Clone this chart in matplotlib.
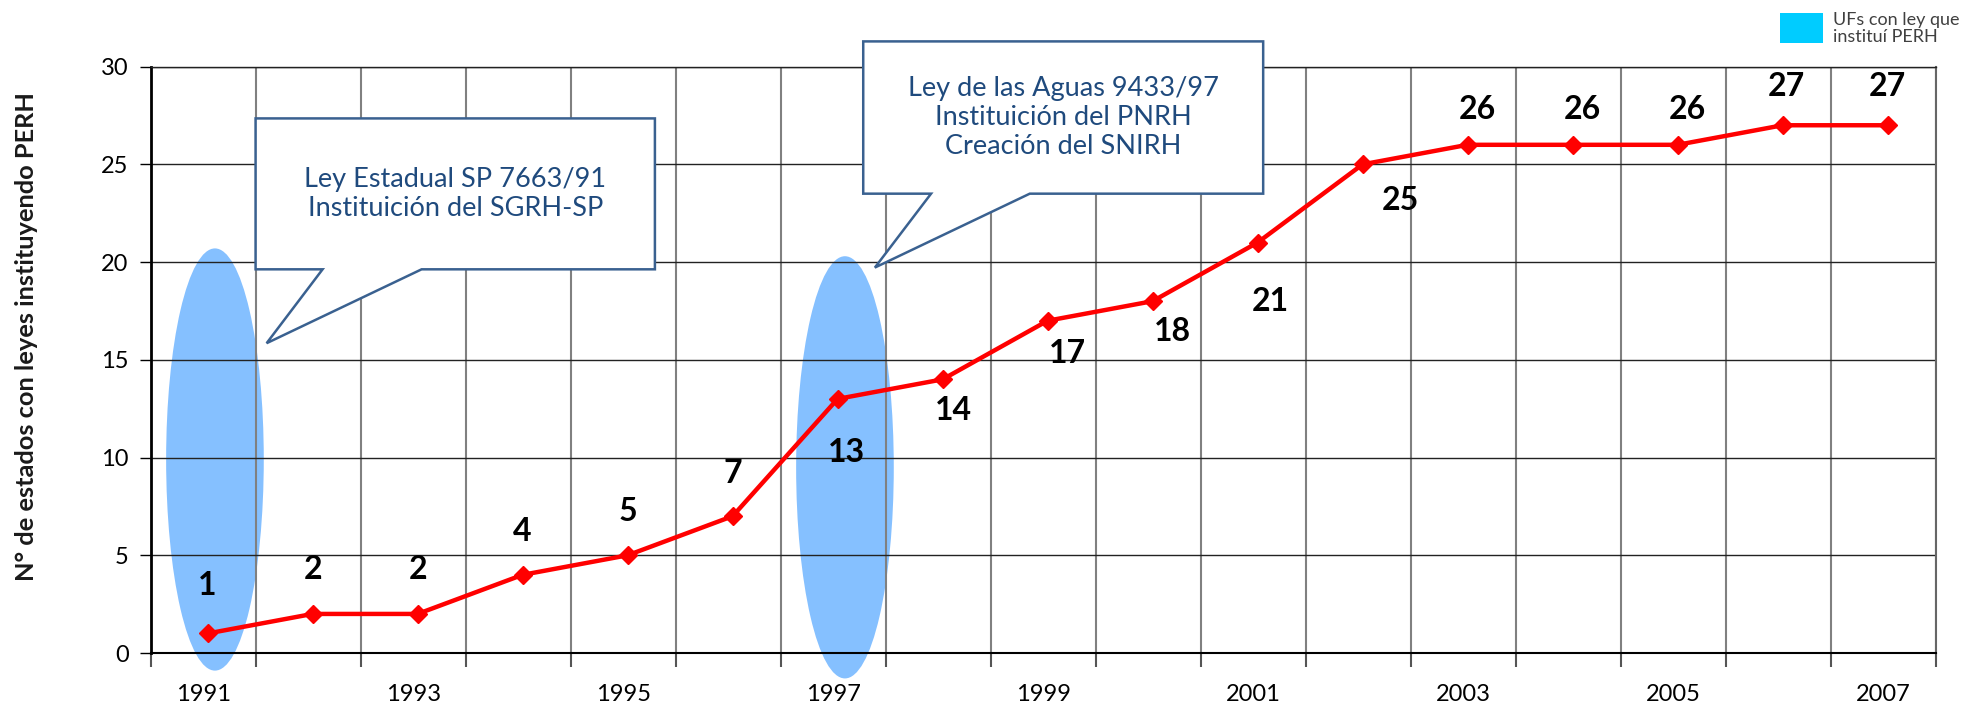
import numpy as np
import matplotlib.pyplot as plt
from matplotlib.patches import Ellipse, Polygon, Rectangle

plt.rcParams['font.family'] = ['Lato', 'DejaVu Sans']

# data
years = [1991, 1992, 1993, 1994, 1995, 1996, 1997, 1998, 1999,
         2000, 2001, 2002, 2003, 2004, 2005, 2006, 2007]
estados = [1, 2, 2, 4, 5, 7, 13, 14, 17, 18, 21, 25, 26, 26, 26, 27, 27]
y_ticks = [0, 5, 10, 15, 20, 25, 30]
highlight_years = [1991, 1997]
callout_texts = ['Ley Estadual SP 7663/91\nInstituición del SGRH-SP',
                 'Ley de las Aguas 9433/97\nInstituición del PNRH\nCreación del SNIRH']
legend_label = 'UFs con ley que\ninstituí PERH'
y_label = 'N° de estados con leyes instituyendo PERH'

# label offsets in pixels (dx, dy) relative to each point
label_off = [(0, 48), (0, 44), (0, 44), (0, 43), (0, 44), (0, 43),
             (9, -54), (11, -31), (20, -33), (20, -30), (13, -59), (38, -36),
             (10, 35), (10, 35), (10, 35), (4, 39), (0, 39)]

x = np.arange(len(years))

fig = plt.figure(figsize=(19.7, 7.14), dpi=100)
ax = fig.add_axes([0.0766, 0.0854, 0.9061, 0.8213])

ax.set_xlim(-0.5, len(years) - 0.5)
ax.set_ylim(0, 30)
ax.set_axisbelow(True)

# grid: boundaries between categories, horizontal at y ticks
ax.set_xticks(np.arange(len(years) + 1) - 0.5)
ax.set_xticklabels([])
ax.set_xticks(x[::2], minor=True)
ax.set_xticklabels([str(yr) for yr in years[::2]], minor=True)
ax.tick_params(axis='x', which='major', length=10, width=1.5, color='#555555')
ax.tick_params(axis='x', which='minor', length=0, pad=22, labelsize=17)
ax.set_yticks(y_ticks)
ax.tick_params(axis='y', length=8, width=1, pad=8, labelsize=17)
ax.grid(axis='x', which='major', color='#808080', lw=1.5)
ax.grid(axis='y', color='#222222', lw=1)

ax.spines['top'].set_color('#222222')
ax.spines['top'].set_linewidth(1)
ax.spines['right'].set_color('#666666')
ax.spines['right'].set_linewidth(1.5)
ax.spines['left'].set_linewidth(2)
ax.spines['bottom'].set_linewidth(1.5)

# highlighted years
ell_y = [9.9, 9.5]
for yr, yc in zip(highlight_years, ell_y):
    i = years.index(yr)
    ax.add_patch(Ellipse((i + 0.11, yc), width=0.93, height=21.6,
                         facecolor='#85C0FF', edgecolor='none',
                         zorder=0.4, clip_on=False))

# callouts
def callout(ax, x0, x1, y0, y1, b0, b1, tip, text):
    verts = [(x0, y0), (b0, y0), tip, (b1, y0), (x1, y0), (x1, y1), (x0, y1)]
    ax.add_patch(Polygon(verts, closed=True, facecolor='white',
                         edgecolor='#3A6190', lw=1.8, zorder=3,
                         clip_on=False, joinstyle='miter'))
    ax.text((x0 + x1) / 2, (y0 + y1) / 2, text, ha='center', va='center',
            fontsize=19.5, color='#1F4A7D', linespacing=1.22, zorder=4)

callout(ax, 0.497, 4.30, 19.63, 27.35, 1.135, 2.078, (0.602, 15.85),
        callout_texts[0])
callout(ax, 6.284, 10.093, 23.5, 31.29, 6.93, 7.87, (6.395, 19.72),
        callout_texts[1])

xp = x + 0.04
ax.plot(xp, estados, color='#FF0000', lw=3.2, marker='D', ms=9.5,
        zorder=5, clip_on=False)

for xi, v, (dx, dy) in zip(xp, estados, label_off):
    ax.annotate(str(v), (xi, v), xytext=(dx, dy), textcoords='offset pixels',
                ha='center', va='center', fontsize=23, fontweight='bold',
                color='black', zorder=6)

ax.set_ylabel(y_label, fontsize=18.3, fontweight='bold', color='#1a1a1a')
ax.yaxis.set_label_coords(-0.063, 0.54)

# legend box top right
fig.add_artist(Rectangle((0.9036, 0.9398), 0.0218, 0.042,
                         transform=fig.transFigure, facecolor='#00CCFF',
                         edgecolor='none'))
fig.text(0.9305, 0.9605, legend_label, fontsize=13, color='#404040',
         va='center', ha='left', linespacing=1.05)

fig.savefig('out.png', dpi=100)
